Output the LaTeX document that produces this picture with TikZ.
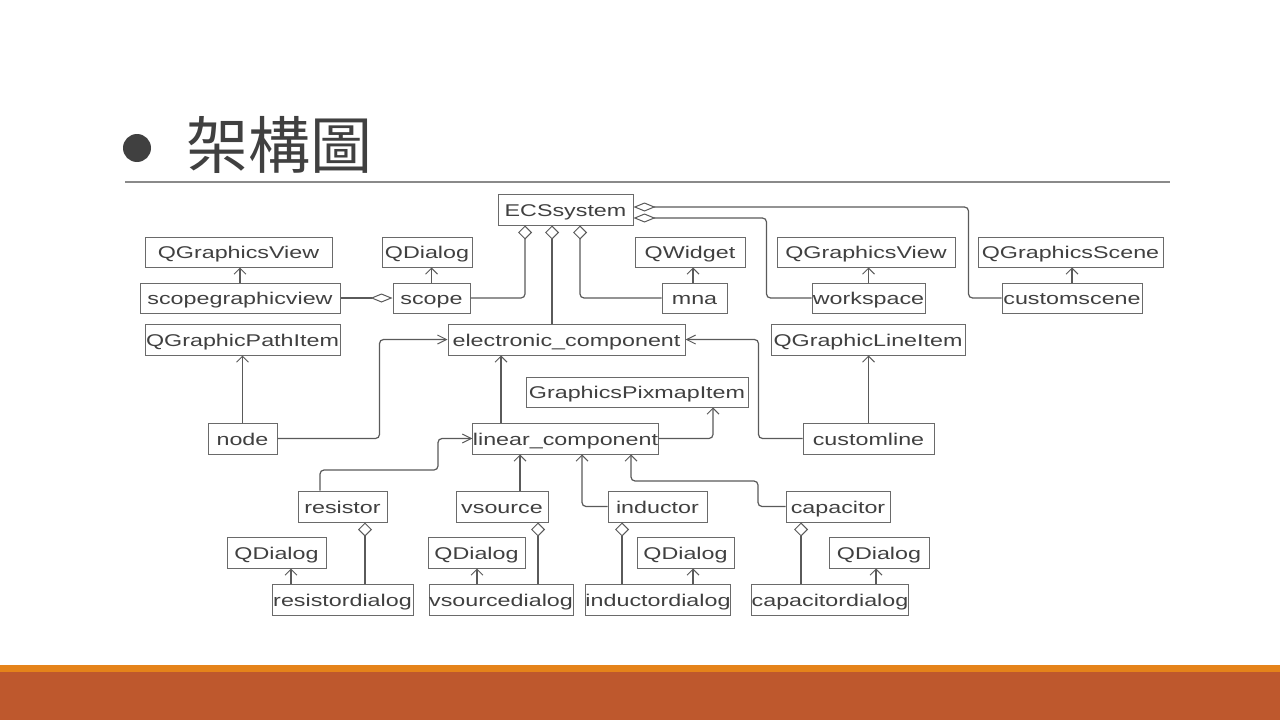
\documentclass[tikz,border=0pt]{standalone}
\usepackage{fontspec}
\usetikzlibrary{arrows.meta}
\newfontfamily\umlfont[FakeStretch=1.37]{Liberation Sans}
\newfontfamily\cjkfont{Noto Sans CJK TC}
\definecolor{inkgray}{HTML}{404040}
\definecolor{linegray}{HTML}{5A5A5A}
\definecolor{framegray}{HTML}{6A6A6A}
\definecolor{rulegray}{HTML}{8A8A8A}
\definecolor{barorange}{HTML}{E5831A}
\definecolor{barbrown}{HTML}{BE582D}
\tikzset{
  umlbox/.style={draw=framegray, line width=1pt, fill=white, inner sep=0pt,
    text height=13pt, text depth=0pt,
    minimum height=31pt, font=\umlfont\fontsize{17}{20}\selectfont, text=inkgray},
  conn/.style={draw=linegray, line width=1.2pt, rounded corners=4pt},
  inh/.style={conn, -{Straight Barb[length=6pt,width=12pt,line width=1pt]}},
  inhh/.style={conn, -{Straight Barb[length=9pt,width=9pt,line width=1pt]}},
  aggv/.style={conn, {Diamond[open,length=14pt,width=14pt,line width=1pt]}-},
  aggh/.style={conn, {Diamond[open,length=22pt,width=9pt,line width=1pt]}-},
}
\begin{document}
\begin{tikzpicture}[x=1pt,y=-1pt]
\useasboundingbox (0,0) rectangle (1280,720);
\fill[white] (0,0) rectangle (1280,720);

% slide title and footer bars
\fill[inkgray] (137,148) circle (14);
\node[anchor=base west, inner sep=0pt, font=\cjkfont\fontsize{62}{70}\selectfont, text=inkgray] (title) at (186,168) {架構圖};
\draw[rulegray, line width=1.2pt] (125,182) -- (1170,182);
\fill[barorange] (0,665) rectangle (1280,672);
\fill[barbrown] (0,672) rectangle (1280,720);

% classes
\node[umlbox, minimum width=135pt] (ecs) at (565.5,209.5) {ECSsystem};
\node[umlbox, minimum width=187pt, minimum height=30pt] (qgv1) at (238.5,252) {QGraphicsView};
\node[umlbox, minimum width=90pt, minimum height=30pt] (qdlgS) at (427,252) {QDialog};
\node[umlbox, minimum width=110pt, minimum height=30pt] (qwidget) at (690,252) {QWidget};
\node[umlbox, minimum width=178pt, minimum height=30pt] (qgv2) at (866,252) {QGraphicsView};
\node[umlbox, minimum width=185pt, minimum height=30pt] (qgs) at (1070.5,252) {QGraphicsScene};
\node[umlbox, minimum width=200pt, minimum height=30pt] (sgv) at (240,298) {scopegraphicview};
\node[umlbox, minimum width=77pt, minimum height=30pt] (scope) at (431.5,298) {scope};
\node[umlbox, minimum width=65pt, minimum height=30pt] (mna) at (694.5,298) {mna};
\node[umlbox, minimum width=113pt, minimum height=30pt] (workspace) at (868.5,298) {workspace};
\node[umlbox, minimum width=140pt, minimum height=30pt] (cs) at (1072,298) {customscene};
\node[umlbox, minimum width=195pt] (qgpi) at (242.5,339.5) {QGraphicPathItem};
\node[umlbox, minimum width=237pt] (ec) at (566.5,339.5) {electronic\_component};
\node[umlbox, minimum width=194pt] (qgli) at (868,339.5) {QGraphicLineItem};
\node[umlbox, minimum width=222pt, minimum height=30pt] (gpi) at (637,392) {GraphicsPixmapItem};
\node[umlbox, minimum width=69pt] (node) at (242.5,438.5) {node};
\node[umlbox, minimum width=185pt] (lc) at (565.5,438.5) {linear\_component};
\node[umlbox, minimum width=131pt] (cl) at (868.5,438.5) {customline};
\node[umlbox, minimum width=89pt] (res) at (342.5,506.5) {resistor};
\node[umlbox, minimum width=92pt] (vs) at (502,506.5) {vsource};
\node[umlbox, minimum width=99pt] (ind) at (657.5,506.5) {inductor};
\node[umlbox, minimum width=104pt] (cap) at (838,506.5) {capacitor};
\node[umlbox, minimum width=99pt] (qd1) at (276.5,552.5) {QDialog};
\node[umlbox, minimum width=97pt] (qd2) at (476.5,552.5) {QDialog};
\node[umlbox, minimum width=97pt] (qd3) at (685.5,552.5) {QDialog};
\node[umlbox, minimum width=100pt] (qd4) at (879,552.5) {QDialog};
\node[umlbox, minimum width=141pt] (rd) at (342.5,599.5) {resistordialog};
\node[umlbox, minimum width=144pt] (vd) at (501,599.5) {vsourcedialog};
\node[umlbox, minimum width=140pt] (id) at (658,599.5) {inductordialog};
\node[umlbox, minimum width=154pt] (cd) at (830,599.5) {capacitordialog};

% aggregation into ECSsystem
\draw[aggv] ([xshift=-40.5pt]ecs.south) |- (scope.east);
\draw[aggv] ([xshift=-13.5pt]ecs.south) -- ([xshift=-14.5pt]ec.north);
\draw[aggv] ([xshift=14.5pt]ecs.south) |- (mna.west);
\draw[aggh] ([yshift=-8.5pt]ecs.east) -| ([xshift=-45pt]workspace.west) -- (workspace.west);
\draw[aggh] ([yshift=2.5pt]ecs.east) -| ([xshift=-33pt]cs.west) -- (cs.west);
\draw[aggh] (scope.west) -- (sgv.east);

% inheritance, top rows
\draw[inh] (sgv.north) -- (sgv.north |- qgv1.south);
\draw[inh] (scope.north) -- (scope.north |- qdlgS.south);
\draw[inh] ([xshift=-1.5pt]mna.north) -- ([xshift=3pt]qwidget.south);
\draw[inh] (workspace.north) -- ([xshift=2.5pt]qgv2.south);
\draw[inh] (cs.north) -- ([xshift=1.5pt]qgs.south);
\draw[inh] (node.north) -- (node.north |- qgpi.south);
\draw[inhh] (node.east) -| ([xshift=-68pt]ec.west) -- (ec.west);
\draw[inh] ([xshift=-64.5pt]lc.north) -- ([xshift=-65.5pt]ec.south);
\draw[inh] (lc.east) -| ([xshift=76pt]gpi.south);
\draw[inhh] (cl.west) -| ([xshift=73pt]ec.east) -- (ec.east);
\draw[inh] (cl.north) -- ([xshift=0.5pt]qgli.south);

% components derived from linear_component
\draw[inhh] ([xshift=-22.5pt]res.north) -- (320,470) -- (438,470) |- (lc.west);
\draw[inh] ([xshift=18pt]vs.north) -- ([xshift=-45.5pt]lc.south);
\draw[inh] (ind.west) -| ([xshift=16.5pt]lc.south);
\draw[inh] (cap.west) -| (758,481) -| ([xshift=65.5pt]lc.south);

% dialogs
\draw[aggv] ([xshift=22.5pt]res.south) -- ([xshift=22.5pt]rd.north);
\draw[inh] ([xshift=-51.5pt]rd.north) -- ([xshift=14.5pt]qd1.south);
\draw[aggv] ([xshift=36pt]vs.south) -- ([xshift=37pt]vd.north);
\draw[inh] ([xshift=-24pt]vd.north) -- ([xshift=0.5pt]qd2.south);
\draw[aggv] ([xshift=-35.5pt]ind.south) -- ([xshift=-36pt]id.north);
\draw[inh] ([xshift=35pt]id.north) -- ([xshift=7.5pt]qd3.south);
\draw[aggv] ([xshift=-37pt]cap.south) -- ([xshift=-29pt]cd.north);
\draw[inh] ([xshift=46pt]cd.north) -- ([xshift=-3pt]qd4.south);
\end{tikzpicture}
\end{document}
